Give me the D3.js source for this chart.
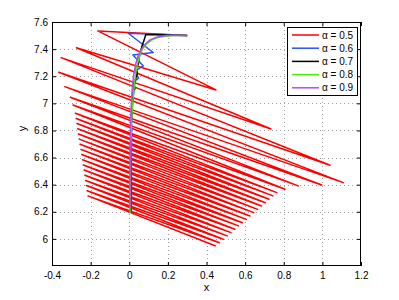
<!DOCTYPE html>
<html><head><meta charset="utf-8">
<script src="https://cdn.jsdelivr.net/npm/d3@7"></script>
<style>html,body{margin:0;padding:0;background:#fff;}svg{display:block;}</style>
</head><body>
<svg id="chart" width="399" height="300"></svg>
<script>
// ---- data ----
const xTicks = [-0.4,-0.2,0,0.2,0.4,0.6,0.8,1,1.2];
const xTickLabels = ["-0.4","-0.2","0","0.2","0.4","0.6","0.8","1","1.2"];
const yTicks = [6,6.2,6.4,6.6,6.8,7,7.2,7.4,7.6];
const yTickLabels = ["6","6.2","6.4","6.6","6.8","7","7.2","7.4","7.6"];
const seriesNames = ["α = 0.5","α = 0.6","α = 0.7","α = 0.8","α = 0.9"];
const seriesColors = ["#ff0000","#2a50ff","#000000","#44ee00","#b04ef0"];

const alpha05 = [
  [0.300,7.500],[-0.163,7.534],[0.449,7.099],[-0.274,7.410],[0.734,6.811],[-0.353,7.337],
  [1.040,6.543],[-0.365,7.229],[1.108,6.415],[-0.334,7.123],[0.997,6.398],[-0.305,7.045],
  [0.875,6.391],[-0.291,6.988],[0.807,6.366],[-0.279,6.927],[0.764,6.341],[-0.275,6.888],
  [0.744,6.317],[-0.271,6.851],[0.724,6.292],[-0.267,6.812],[0.705,6.267],[-0.263,6.774],
  [0.685,6.243],[-0.259,6.736],[0.665,6.218],[-0.255,6.698],[0.645,6.194],[-0.250,6.660],
  [0.625,6.169],[-0.246,6.622],[0.606,6.144],[-0.242,6.584],[0.586,6.119],[-0.238,6.545],
  [0.566,6.096],[-0.234,6.508],[0.547,6.071],[-0.230,6.469],[0.527,6.046],[-0.226,6.431],
  [0.507,6.022],[-0.222,6.394],[0.487,5.997],[-0.218,6.355],[0.467,5.972],[-0.214,6.317],
  [0.448,5.948]
];
const alpha06 = [
  [0.300,7.500],[-0.005,7.517],[0.124,7.375],[0.019,7.357],[0.073,7.276],[0.027,7.235],
  [0.048,7.188],[0.019,7.151],[0.032,7.111],[0.017,7.078],[0.022,7.041],[0.014,6.990],
  [0.012,6.880],[0.011,6.585],[0.011,6.195]
];
const alpha07 = [
  [0.300,7.500],[0.085,7.507],[0.078,7.470],[0.068,7.430],[0.058,7.380],[0.050,7.330],
  [0.047,7.290],[0.036,7.260],[0.042,7.220],[0.030,7.170],[0.024,7.100],[0.017,7.000],
  [0.010,6.850],[0.007,6.600],[0.006,6.400],[0.006,6.195]
];
const alpha08 = [
  [0.300,7.500],[0.220,7.500],[0.160,7.490],[0.120,7.470],[0.090,7.440],[0.068,7.400],
  [0.053,7.350],[0.042,7.290],[0.033,7.220],[0.026,7.130],[0.019,7.020],[0.012,6.880],
  [0.008,6.650],[0.005,6.400],[0.004,6.190]
];
const alpha09 = [
  [0.300,7.500],[0.240,7.502],[0.190,7.500],[0.145,7.490],[0.108,7.468],[0.078,7.430],
  [0.057,7.385],[0.042,7.335],[0.031,7.275],[0.023,7.210],[0.017,7.137],[0.012,7.030],
  [0.007,6.880],[0.005,6.660],[0.004,6.440],[0.004,6.230]
];
const allSeries = [alpha05, alpha06, alpha07, alpha08, alpha09];

// ---- layout ----
const W = 399, H = 300;
const m = {left: 52, top: 22, right: 38, bottom: 34};
const svg = d3.select("#chart");
const pw = W - m.left - m.right, ph = H - m.top - m.bottom;
const x = d3.scaleLinear().domain([-0.4, 1.2]).range([m.left, m.left + pw]);
const y = d3.scaleLinear().domain([5.8, 7.6]).range([m.top + ph, m.top]);
const font = "'Liberation Sans', Arial, Helvetica, sans-serif";

svg.append("rect").attr("x",0).attr("y",0).attr("width",W).attr("height",H).attr("fill","#fff");

// grid
const g = svg.append("g");
g.selectAll(".gx").data(xTicks.slice(1,-1)).enter().append("line")
  .attr("x1",d=>Math.round(x(d))+0.5).attr("x2",d=>Math.round(x(d))+0.5)
  .attr("y1",m.top).attr("y2",m.top+ph)
  .attr("stroke","#a0a0a0").attr("stroke-width",1).attr("stroke-dasharray","1,3");
g.selectAll(".gy").data(yTicks.filter(d=>d<7.6)).enter().append("line")
  .attr("y1",d=>Math.round(y(d))+0.5).attr("y2",d=>Math.round(y(d))+0.5)
  .attr("x1",m.left).attr("x2",m.left+pw)
  .attr("stroke","#a0a0a0").attr("stroke-width",1).attr("stroke-dasharray","1,3");

// data lines
svg.append("clipPath").attr("id","clip").append("rect")
  .attr("x",m.left).attr("y",m.top).attr("width",pw).attr("height",ph);
const line = d3.line().x(d=>x(d[0])).y(d=>y(d[1]));
const lg = svg.append("g").attr("clip-path","url(#clip)");
allSeries.forEach((s,i)=>{
  lg.append("path").attr("d",line(s)).attr("fill","none")
    .attr("stroke",seriesColors[i]).attr("stroke-width",1.5)
    .attr("stroke-linejoin","round");
});

// axes (box with inward ticks)
const axB = d3.axisBottom(x).tickValues(xTicks).tickFormat((d,i)=>xTickLabels[i]).tickSizeInner(-4).tickSizeOuter(0).tickPadding(6);
const axL = d3.axisLeft(y).tickValues(yTicks).tickFormat((d,i)=>yTickLabels[i]).tickSizeInner(-4).tickSizeOuter(0).tickPadding(4);
const axT = d3.axisTop(x).tickValues(xTicks).tickFormat("").tickSizeInner(-4).tickSizeOuter(0);
const axR = d3.axisRight(y).tickValues(yTicks).tickFormat("").tickSizeInner(-4).tickSizeOuter(0);
[[axB,`translate(0,${m.top+ph})`],[axL,`translate(${m.left},0)`],[axT,`translate(0,${m.top})`],[axR,`translate(${m.left+pw},0)`]]
.forEach(([a,t])=>{
  const ga = svg.append("g").attr("transform",t).call(a);
  ga.select(".domain").remove();
  ga.selectAll("line").attr("stroke","#000");
  ga.selectAll("text").attr("font-family",font).attr("font-size",10).attr("fill","#000");
});
svg.append("rect").attr("x",m.left+0.5).attr("y",m.top+0.5).attr("width",pw-1).attr("height",ph-1)
  .attr("fill","none").attr("stroke","#000").attr("stroke-width",1);

// axis labels
svg.append("text").attr("x",x(0.4)).attr("y",291).attr("text-anchor","middle")
  .attr("font-family",font).attr("font-size",11).text("x");
svg.append("text").attr("transform",`translate(26,${y(6.8)-2}) rotate(-90)`).attr("text-anchor","middle")
  .attr("font-family",font).attr("font-size",11).text("y");

// legend
const lx = 287, ly = 27, lw = 70, lh = 68;
const leg = svg.append("g");
leg.append("rect").attr("x",lx+0.5).attr("y",ly+0.5).attr("width",lw).attr("height",lh)
  .attr("fill","#fff").attr("stroke","#000").attr("stroke-width",1);
seriesNames.forEach((n,i)=>{
  const yy = ly + 8 + i*13.2;
  leg.append("line").attr("x1",lx+5).attr("x2",lx+32).attr("y1",yy).attr("y2",yy)
    .attr("stroke",seriesColors[i]).attr("stroke-width",1.5);
  leg.append("text").attr("x",lx+35).attr("y",yy+3.5).attr("font-family",font)
    .attr("font-size",10).text(n);
});
</script>
</body></html>
